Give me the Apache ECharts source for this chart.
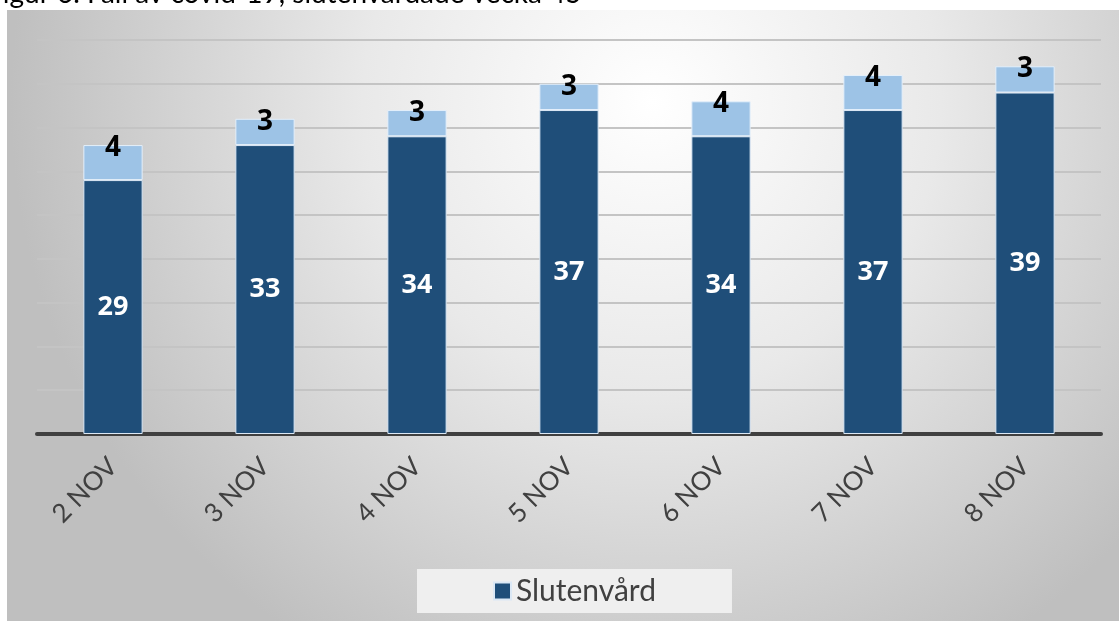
<!DOCTYPE html>
<html style="height: 100%" lang="sv">
<head>
    <meta charset="utf-8">
    <script type="text/javascript" src="https://cdn.jsdelivr.net/npm/echarts@6/dist/echarts.min.js"></script>
    <title>Slutenvård</title>
</head>
<body style="height: 100%; margin: 0; background: #ffffff">
<div id="container" style="width: 1119px; height: 621px"></div>
</body>
<script type="text/javascript">
    let days = ['2 NOV', '3 NOV', '4 NOV', '5 NOV', '6 NOV', '7 NOV', '8 NOV'];
    let slutenvard = [29, 33, 34, 37, 34, 37, 39];
    let intensivvard = [4, 3, 3, 3, 4, 4, 3];
    let titleText = 'Figur 6. Fall av covid-19, slutenvårdade vecka 45';

    let dom = document.getElementById('container');
    let myChart = echarts.init(dom);
    let font = 'Lato';
    let boldFont = 'Open Sans';
    let option;

    option = {
        animation: false,
        textStyle: {fontFamily: font},
        graphic: [
            {
                type: 'rect',
                z: -10,
                shape: {x: 7, y: 10, width: 1112, height: 611},
                style: {
                    fill: new echarts.graphic.RadialGradient(0.58, 0.15, 1.05, [
                        {offset: 0, color: '#ffffff'},
                        {offset: 0.45, color: '#e9e9e9'},
                        {offset: 1, color: '#bfbfbf'}
                    ])
                }
            },
            {
                type: 'text',
                left: -13,
                top: -20,
                style: {
                    text: titleText,
                    fontSize: 28,
                    fontFamily: font,
                    fill: '#000000'
                }
            }
        ],
        grid: {
            left: 37,
            right: 18,
            top: 40,
            bottom: 187
        },
        legend: {
            data: [{name: 'Slutenvård', icon: 'rect'}],
            left: 417,
            top: 569,
            padding: [7, 76],
            backgroundColor: '#efefef',
            itemWidth: 17,
            itemHeight: 17,
            itemGap: 6,
            textStyle: {fontSize: 30, color: '#404040', fontFamily: font}
        },
        xAxis: {
            type: 'category',
            data: days,
            axisLine: {lineStyle: {color: '#404040', width: 4}},
            axisTick: {show: false},
            axisLabel: {
                rotate: 45,
                fontSize: 26,
                color: '#404040',
                margin: 28
            }
        },
        yAxis: {
            type: 'value',
            min: 0,
            max: 45,
            interval: 5,
            axisLabel: {show: false},
            axisLine: {show: false},
            axisTick: {show: false},
            splitLine: {lineStyle: {color: '#c4c4c4', width: 2}}
        },
        series: [
            {
                name: 'Slutenvård',
                type: 'bar',
                stack: 'total',
                barWidth: '39%',
                data: slutenvard,
                itemStyle: {color: '#1f4e79', borderColor: '#dbe8f5', borderWidth: 1},
                label: {
                    show: true,
                    position: 'inside',
                    color: '#ffffff',
                    fontSize: 27,
                    fontWeight: 'bold',
                    fontFamily: boldFont
                }
            },
            {
                name: 'Intensivvård',
                type: 'bar',
                stack: 'total',
                data: intensivvard,
                itemStyle: {color: '#9dc3e6', borderColor: '#e4effa', borderWidth: 1},
                label: {
                    show: true,
                    position: 'top',
                    distance: -17,
                    color: '#000000',
                    fontSize: 28,
                    fontWeight: 'bold',
                    fontFamily: boldFont
                }
            }
        ]
    };
    if (option && typeof option === 'object') {
        myChart.setOption(option);
    }
</script>
</html>
